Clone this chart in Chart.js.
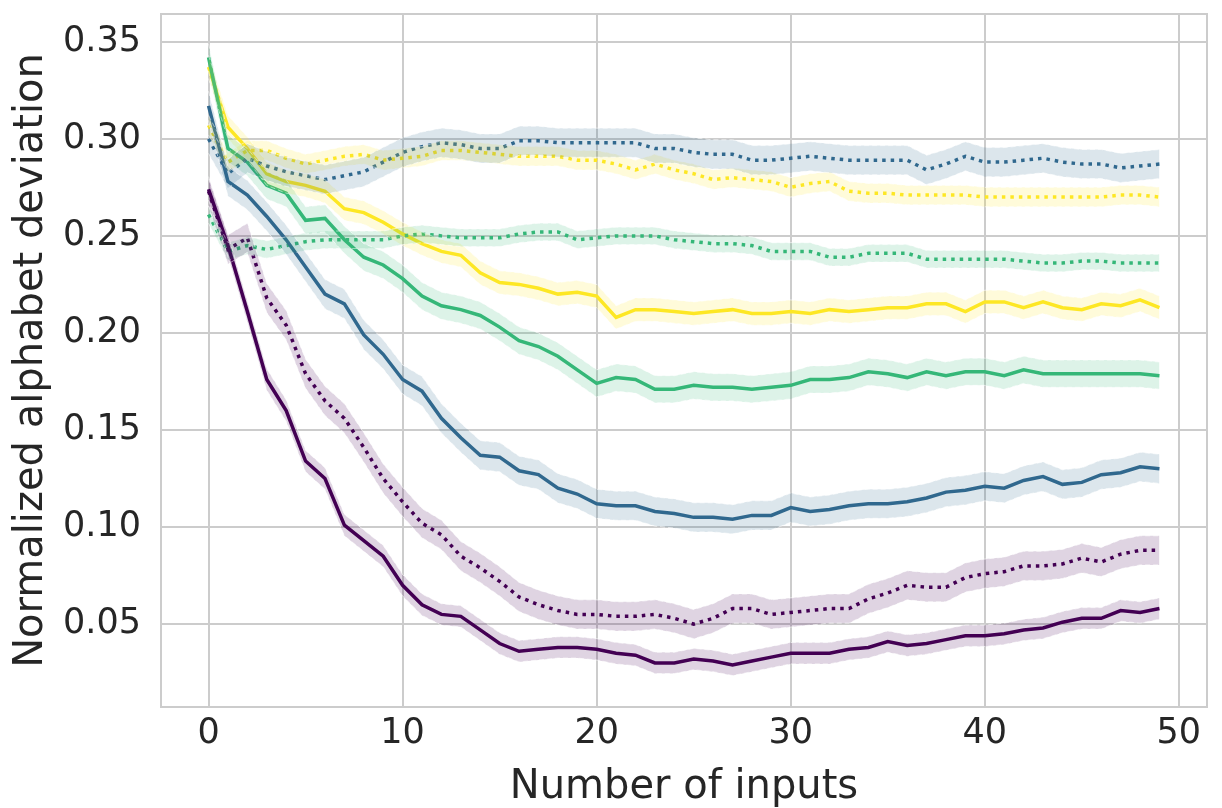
<!DOCTYPE html>
<html>
<head>
<meta charset="utf-8">
<script src="https://cdn.jsdelivr.net/npm/chart.js@4/dist/chart.umd.min.js"></script>
<style>
  html, body { margin: 0; padding: 0; background: #fff; }
  #wrap { width: 1222px; height: 808px; }
</style>
</head>
<body>
<div id="wrap"><canvas id="devChart" width="1222" height="808"></canvas></div>
<script>
// number of inputs on the x axis
const inputs = Array.from({ length: 50 }, (_, i) => i);
const xTicks = [0, 10, 20, 30, 40, 50];
const yTicks = [0.05, 0.10, 0.15, 0.20, 0.25, 0.30, 0.35];

// series (solid and dotted variant per colour)
const purpleSolid = [0.274, 0.245, 0.211, 0.176, 0.160, 0.134, 0.125, 0.101, 0.093, 0.085,
  0.070, 0.060, 0.055, 0.054, 0.047, 0.040, 0.036, 0.037, 0.038, 0.038,
  0.037, 0.035, 0.034, 0.030, 0.030, 0.032, 0.031, 0.029, 0.031, 0.033,
  0.035, 0.035, 0.035, 0.037, 0.038, 0.041, 0.039, 0.040, 0.042, 0.044,
  0.044, 0.045, 0.047, 0.048, 0.051, 0.053, 0.053, 0.057, 0.056, 0.058];
const purpleDotted = [0.273, 0.243, 0.249, 0.218, 0.204, 0.179, 0.165, 0.156, 0.141, 0.125,
  0.113, 0.102, 0.096, 0.085, 0.079, 0.072, 0.064, 0.060, 0.057, 0.055,
  0.055, 0.054, 0.054, 0.055, 0.053, 0.050, 0.053, 0.058, 0.058, 0.055,
  0.056, 0.057, 0.058, 0.058, 0.063, 0.066, 0.070, 0.069, 0.069, 0.074,
  0.076, 0.077, 0.080, 0.080, 0.081, 0.084, 0.082, 0.086, 0.088, 0.088];
const blueSolid = [0.317, 0.278, 0.271, 0.260, 0.248, 0.234, 0.220, 0.215, 0.199, 0.189,
  0.176, 0.170, 0.156, 0.146, 0.137, 0.136, 0.129, 0.127, 0.120, 0.117,
  0.112, 0.111, 0.111, 0.108, 0.107, 0.105, 0.105, 0.104, 0.106, 0.106,
  0.110, 0.108, 0.109, 0.111, 0.112, 0.112, 0.113, 0.115, 0.118, 0.119,
  0.121, 0.120, 0.124, 0.126, 0.122, 0.123, 0.127, 0.128, 0.131, 0.130];
const blueDotted = [0.300, 0.282, 0.290, 0.286, 0.283, 0.281, 0.279, 0.281, 0.283, 0.288,
  0.293, 0.296, 0.298, 0.297, 0.295, 0.295, 0.299, 0.299, 0.298, 0.298,
  0.298, 0.298, 0.298, 0.295, 0.295, 0.293, 0.292, 0.292, 0.289, 0.289,
  0.290, 0.291, 0.290, 0.289, 0.289, 0.289, 0.289, 0.284, 0.287, 0.291,
  0.288, 0.288, 0.289, 0.290, 0.288, 0.287, 0.287, 0.285, 0.286, 0.287];
const greenSolid = [0.342, 0.295, 0.288, 0.276, 0.272, 0.258, 0.259, 0.248, 0.239, 0.235,
  0.228, 0.219, 0.214, 0.212, 0.209, 0.203, 0.196, 0.193, 0.188, 0.181,
  0.174, 0.177, 0.176, 0.171, 0.171, 0.173, 0.172, 0.172, 0.171, 0.172,
  0.173, 0.176, 0.176, 0.177, 0.180, 0.179, 0.177, 0.180, 0.178, 0.180,
  0.180, 0.178, 0.181, 0.179, 0.179, 0.179, 0.179, 0.179, 0.179, 0.178];
const greenDotted = [0.261, 0.242, 0.245, 0.243, 0.245, 0.247, 0.248, 0.248, 0.248, 0.248,
  0.250, 0.251, 0.250, 0.249, 0.249, 0.249, 0.251, 0.252, 0.252, 0.248,
  0.249, 0.250, 0.250, 0.250, 0.248, 0.247, 0.246, 0.246, 0.245, 0.242,
  0.242, 0.242, 0.239, 0.239, 0.241, 0.241, 0.241, 0.238, 0.238, 0.238,
  0.238, 0.238, 0.237, 0.236, 0.236, 0.237, 0.237, 0.236, 0.236, 0.236];
const yellowSolid = [0.337, 0.306, 0.295, 0.282, 0.278, 0.276, 0.273, 0.264, 0.262, 0.257,
  0.251, 0.246, 0.242, 0.240, 0.231, 0.226, 0.225, 0.223, 0.220, 0.221,
  0.219, 0.208, 0.212, 0.212, 0.211, 0.210, 0.211, 0.212, 0.210, 0.210,
  0.211, 0.210, 0.212, 0.211, 0.212, 0.213, 0.213, 0.215, 0.215, 0.211,
  0.216, 0.216, 0.213, 0.216, 0.213, 0.212, 0.215, 0.214, 0.217, 0.213];
const yellowDotted = [0.307, 0.288, 0.294, 0.294, 0.290, 0.287, 0.289, 0.291, 0.292, 0.289,
  0.290, 0.291, 0.294, 0.294, 0.293, 0.292, 0.291, 0.291, 0.291, 0.289,
  0.289, 0.287, 0.284, 0.287, 0.284, 0.282, 0.279, 0.280, 0.279, 0.278,
  0.275, 0.277, 0.278, 0.273, 0.272, 0.272, 0.271, 0.271, 0.271, 0.271,
  0.270, 0.270, 0.270, 0.270, 0.270, 0.270, 0.270, 0.271, 0.271, 0.270];

// half width of the shaded confidence band, per series
const bandHalf = [0.0055, 0.0075, 0.0075, 0.0075, 0.007, 0.0045, 0.006, 0.005];

const series = [
  { data: purpleSolid, color: [68, 1, 84], dotted: false },
  { data: purpleDotted, color: [68, 1, 84], dotted: true },
  { data: blueSolid, color: [49, 104, 142], dotted: false },
  { data: blueDotted, color: [49, 104, 142], dotted: true },
  { data: greenSolid, color: [53, 183, 121], dotted: false },
  { data: greenDotted, color: [53, 183, 121], dotted: true },
  { data: yellowSolid, color: [253, 231, 37], dotted: false },
  { data: yellowDotted, color: [253, 231, 37], dotted: true }
];

const rgba = (c, a) => 'rgba(' + c[0] + ',' + c[1] + ',' + c[2] + ',' + a + ')';

const datasets = [];
// bands first
series.forEach((s, k) => {
  const lowIdx = datasets.length;
  datasets.push({
    data: inputs.map((x, i) => ({ x: x, y: s.data[i] - bandHalf[k] })),
    borderColor: 'rgba(255,255,255,0.6)',
    borderWidth: 1,
    borderDash: [5, 3],
    pointRadius: 0,
    fill: false
  });
  datasets.push({
    data: inputs.map((x, i) => ({ x: x, y: s.data[i] + bandHalf[k] })),
    borderColor: 'rgba(255,255,255,0.6)',
    borderWidth: 1,
    borderDash: [5, 3],
    pointRadius: 0,
    backgroundColor: rgba(s.color, 0.17),
    fill: lowIdx
  });
});
// then the lines
series.forEach((s) => {
  datasets.push({
    data: inputs.map((x, i) => ({ x: x, y: s.data[i] })),
    borderColor: rgba(s.color, 1),
    borderWidth: 3.5,
    borderDash: s.dotted ? [3.5, 5] : [],
    borderCapStyle: 'butt',
    pointRadius: 0,
    tension: 0,
    fill: false
  });
});

// box around the plot area (all four spines)
const frame = {
  id: 'frame',
  afterDraw(chart) {
    const a = chart.chartArea, ctx = chart.ctx;
    ctx.save();
    ctx.strokeStyle = '#cccccc';
    ctx.lineWidth = 2;
    ctx.strokeRect(a.left, a.top, a.right - a.left, a.bottom - a.top);
    ctx.restore();
  }
};

const font = 'DejaVu Sans';

new Chart(document.getElementById('devChart').getContext('2d'), {
  type: 'line',
  data: { datasets: datasets },
  plugins: [frame],
  options: {
    responsive: false,
    animation: false,
    layout: { padding: { left: 0, top: 14, right: 15, bottom: 0 } },
    plugins: { legend: { display: false }, tooltip: { enabled: false } },
    scales: {
      x: {
        type: 'linear',
        min: -2.45,
        max: 51.45,
        afterFit(scale) {
          scale.height = 101;
          scale.paddingLeft = 0;
          scale.paddingRight = 0;
        },
        afterBuildTicks(scale) { scale.ticks = xTicks.map(v => ({ value: v })); },
        grid: { color: '#cccccc', lineWidth: 2, drawTicks: false },
        border: { display: false },
        ticks: {
          color: '#262626',
          font: { family: font, size: 35 },
          padding: 6,
          maxRotation: 0,
          callback: v => String(v)
        },
        title: {
          display: true,
          text: 'Number of inputs',
          color: '#262626',
          font: { family: font, size: 40, lineHeight: 1 },
          padding: { top: 0, bottom: 0 }
        }
      },
      y: {
        min: 0.0073,
        max: 0.3643,
        afterFit(scale) {
          scale.width = 161;
          scale.paddingTop = 0;
          scale.paddingBottom = 0;
        },
        afterBuildTicks(scale) { scale.ticks = yTicks.map(v => ({ value: v })); },
        grid: { color: '#cccccc', lineWidth: 2, drawTicks: false },
        border: { display: false },
        ticks: {
          color: '#262626',
          font: { family: font, size: 35 },
          padding: 20,
          callback: v => v.toFixed(2)
        },
        title: {
          display: true,
          text: 'Normalized alphabet deviation',
          color: '#262626',
          font: { family: font, size: 40, lineHeight: 1 },
          padding: { top: 12, bottom: 0 }
        }
      }
    }
  }
});
</script>
</body>
</html>
